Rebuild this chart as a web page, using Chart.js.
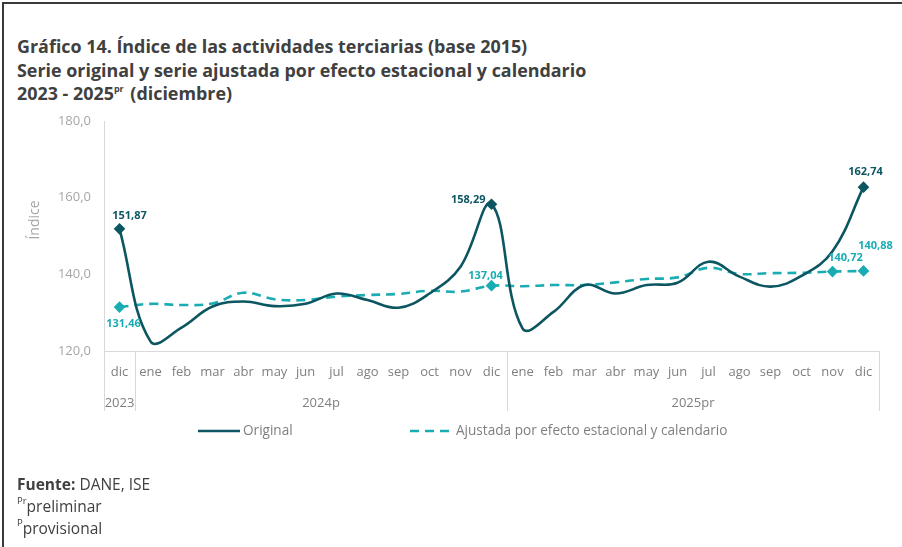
<!DOCTYPE html>
<html lang="es">
<head>
<meta charset="utf-8">
<script src="https://cdn.jsdelivr.net/npm/chart.js@4/dist/chart.umd.min.js"></script>
<style>
  html, body { margin: 0; padding: 0; background: #fff; }
  body { width: 902px; height: 547px; position: relative; overflow: hidden; font-family: "Open Sans", sans-serif; }
  .frame { position: absolute; left: 2px; top: 2px; right: 0; bottom: 0; border-top: 2px solid #3a3a3a; border-left: 2px solid #3a3a3a; }
  .titulo { position: absolute; left: 17px; top: 35px; color: #404040; font-weight: bold; font-size: 17.9px; line-height: 23.5px; }
  .titulo sup { font-size: 9px; position: relative; top: 2px; vertical-align: top; line-height: 1; margin-right: 2px; }
  .fuente { position: absolute; left: 17px; top: 473px; color: #404040; font-size: 15.5px; line-height: 22px; }
  .fuente sup { font-size: 9.5px; position: relative; top: 1px; vertical-align: top; line-height: 1; }
  #grafico { position: absolute; left: 0; top: 0; }
</style>
</head>
<body>
<div class="frame"></div>
<div class="titulo">
  Gráfico 14. Índice de las actividades terciarias (base 2015)<br>
  Serie original y serie ajustada por efecto estacional y calendario<br>
  2023 - 2025<sup>pr</sup> (diciembre)
</div>
<canvas id="grafico" width="902" height="547"></canvas>
<div class="fuente">
  <b>Fuente:</b> DANE, ISE<br>
  <sup>Pr</sup>preliminar<br>
  <sup>P</sup>provisional
</div>
<script>
const meses = ['dic', 'ene', 'feb', 'mar', 'abr', 'may', 'jun', 'jul', 'ago', 'sep', 'oct', 'nov', 'dic',
    'ene', 'feb', 'mar', 'abr', 'may', 'jun', 'jul', 'ago', 'sep', 'oct', 'nov', 'dic'];
const anios = ['2023', '2024p', '2025pr'];
const mesesPorAnio = [1, 12, 12];

const serieOriginal = [151.87, 122.5, 126.1, 131.6, 132.9, 131.7, 132.3, 135.0, 133.3, 131.3, 135.0, 142.0, 158.29,
    125.9, 130.2, 137.2, 135.0, 137.2, 137.8, 143.3, 139.4, 136.8, 139.6, 146.0, 162.74];
const serieAjustada = [131.46, 132.3, 132.0, 132.4, 135.2, 133.5, 133.3, 134.2, 134.6, 134.9, 135.7, 135.5, 137.04,
    136.9, 137.2, 137.2, 137.9, 138.8, 139.2, 141.7, 140.1, 140.3, 140.4, 140.72, 140.88];

const etiquetasOriginal = [0, 12, 24];
const etiquetasAjustada = [0, 12, 23, 24];

const colorOriginal = '#0c5661';
const colorAjustada = '#1aacb3';
const gris = '#7f7f7f';
const lineaGris = '#d9d9d9';

// donde va cada etiqueta respecto a su punto: [dx, dy, align]
const posOriginal = { 0: [10, -13, 'center'], 12: [-6, -4, 'right'], 24: [2, -15, 'center'] };
const posAjustada = { 0: [4, 17, 'center'], 12: [-6, -10, 'center'], 23: [13, -14, 'center'], 24: [12, -25, 'center'] };

const formato = v => v.toFixed(2).replace('.', ',');

const etiquetas = {
    id: 'etiquetas',
    afterDatasetsDraw(chart) {
        const ctx = chart.ctx;
        ctx.save();
        ctx.font = 'bold 11px "Open Sans"';
        ctx.textBaseline = 'middle';
        [[0, etiquetasOriginal, posOriginal], [1, etiquetasAjustada, posAjustada]].forEach(([ds, idx, pos]) => {
            const meta = chart.getDatasetMeta(ds);
            const dataset = chart.data.datasets[ds];
            ctx.fillStyle = dataset.borderColor;
            idx.forEach(i => {
                const p = meta.data[i];
                const [dx, dy, al] = pos[i];
                ctx.textAlign = al;
                ctx.fillText(formato(dataset.data[i]), p.x + dx, p.y + dy);
            });
        });
        ctx.restore();
    }
};

// años bajo los meses, separadores y leyenda
const ejeAnios = {
    id: 'ejeAnios',
    afterDraw(chart) {
        const ctx = chart.ctx;
        const x = chart.scales.x;
        const area = chart.chartArea;
        const paso = x.getPixelForValue(1) - x.getPixelForValue(0);
        ctx.save();
        ctx.strokeStyle = lineaGris;
        ctx.lineWidth = 1;
        ctx.fillStyle = gris;
        ctx.font = '13px "Open Sans"';
        ctx.textAlign = 'center';
        ctx.textBaseline = 'middle';
        let inicio = 0;
        const bordes = [area.left];
        mesesPorAnio.forEach((n, k) => {
            const fin = inicio + n - 1;
            const cx = (x.getPixelForValue(inicio) + x.getPixelForValue(fin)) / 2;
            ctx.fillText(anios[k], cx, area.bottom + 52);
            bordes.push(x.getPixelForValue(fin) + paso / 2);
            inicio += n;
        });
        bordes.forEach(bx => {
            const px = Math.round(bx) + 0.5;
            ctx.beginPath();
            ctx.moveTo(px, area.bottom);
            ctx.lineTo(px, area.bottom + 60);
            ctx.stroke();
        });

        // título del eje y
        ctx.save();
        ctx.translate(35, 220);
        ctx.rotate(-Math.PI / 2);
        ctx.fillStyle = '#a6a6a6';
        ctx.font = '14px "Open Sans"';
        ctx.fillText('Índice', 0, 0);
        ctx.restore();

        // leyenda
        const ly = 431;
        const items = [[198, 243], [410, 456]];
        chart.data.datasets.forEach((d, i) => {
            const [x0, tx] = items[i];
            ctx.strokeStyle = d.borderColor;
            ctx.lineWidth = 2.5;
            ctx.setLineDash(d.borderDash || []);
            ctx.beginPath();
            ctx.moveTo(x0, ly);
            ctx.lineTo(tx - 3, ly);
            ctx.stroke();
            ctx.setLineDash([]);
            ctx.fillStyle = gris;
            ctx.font = '13.6px "Open Sans"';
            ctx.textAlign = 'left';
            ctx.fillText(d.label, tx, ly);
        });
        ctx.restore();
    }
};

new Chart(document.getElementById('grafico'), {
    type: 'line',
    data: {
        labels: meses,
        datasets: [{
            label: 'Original',
            data: serieOriginal,
            borderColor: colorOriginal,
            backgroundColor: colorOriginal,
            borderWidth: 2.6,
            tension: 0.4,
            pointStyle: 'rectRot',
            pointRadius: ctx => etiquetasOriginal.includes(ctx.dataIndex) ? 4 : 0,
            pointHoverRadius: 0
        }, {
            label: 'Ajustada por efecto estacional y calendario',
            data: serieAjustada,
            borderColor: colorAjustada,
            backgroundColor: colorAjustada,
            borderWidth: 2.6,
            borderDash: [9, 6],
            tension: 0.4,
            pointStyle: 'rectRot',
            pointRadius: ctx => etiquetasAjustada.includes(ctx.dataIndex) ? 4 : 0,
            pointHoverRadius: 0
        }]
    },
    options: {
        responsive: false,
        animation: false,
        layout: { padding: { top: 121, right: 23, bottom: 0, left: 0 } },
        plugins: {
            legend: { display: false },
            tooltip: { enabled: false }
        },
        scales: {
            x: {
                offset: true,
                grid: { display: false, drawTicks: false },
                border: { display: true, color: lineaGris, width: 1 },
                ticks: {
                    color: gris,
                    font: { family: 'Open Sans', size: 13 },
                    padding: 13,
                    maxRotation: 0,
                    autoSkip: false
                },
                afterFit: scale => { scale.height = 196; }
            },
            y: {
                min: 120,
                max: 180,
                grid: { display: false, drawTicks: false },
                border: { display: true, color: lineaGris, width: 1 },
                ticks: {
                    stepSize: 20,
                    color: '#a6a6a6',
                    font: { family: 'Open Sans', size: 13 },
                    padding: 13,
                    callback: v => v.toFixed(1).replace('.', ',')
                },
                afterFit: scale => { scale.width = 104; }
            }
        }
    },
    plugins: [etiquetas, ejeAnios]
});
</script>
</body>
</html>
